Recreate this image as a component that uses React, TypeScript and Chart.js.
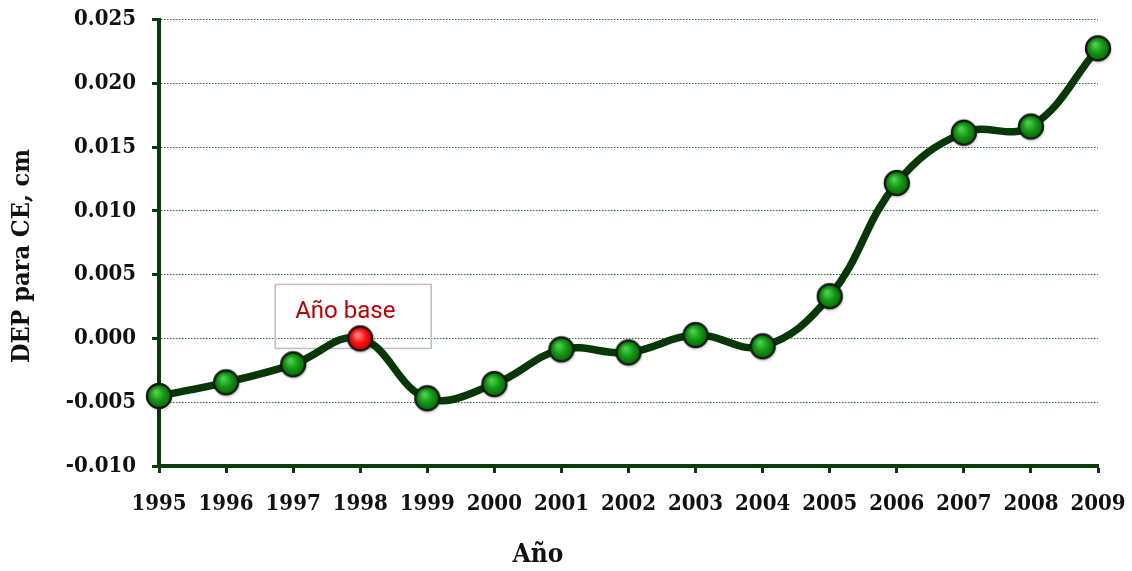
import React, { useEffect, useRef } from "react";
import { Chart, registerables } from "chart.js";

Chart.register(...registerables);

const years = ["1995", "1996", "1997", "1998", "1999", "2000", "2001", "2002", "2003", "2004", "2005", "2006", "2007", "2008", "2009"];
const depValues = [-0.00451, -0.00344, -0.00203, 0.0, -0.00469, -0.00358, -0.00086, -0.0011, 0.00026, -0.00062, 0.00331, 0.01218, 0.01613, 0.01661, 0.02274];
const yTickValues = [-0.01, -0.005, 0.0, 0.005, 0.01, 0.015, 0.02, 0.025];
const baseYearIndex = 3;
const annotationText = "Año base";
const yAxisTitle = "DEP para CE, cm";
const xAxisTitle = "Año";

const AXIS_COLOR = "#0b3a0b";
const LINE_COLOR = "#053805";
const SERIF = "'DejaVu Serif Condensed', 'DejaVu Serif', serif";

function makeBall(light: string, mid: string, dark: string): HTMLCanvasElement {
  const size = 32;
  const c = document.createElement("canvas");
  c.width = size;
  c.height = size;
  const g = c.getContext("2d")!;
  const cx = size / 2;
  const cy = size / 2;
  const r = 12;
  g.beginPath();
  g.arc(cx + 1, cy + 2, r + 1.5, 0, Math.PI * 2);
  g.fillStyle = "rgba(0,0,0,0.10)";
  g.fill();
  const grad = g.createRadialGradient(cx - 3, cy - 4, 1, cx, cy, r);
  grad.addColorStop(0, light);
  grad.addColorStop(0.55, mid);
  grad.addColorStop(1, dark);
  g.beginPath();
  g.arc(cx, cy, r, 0, Math.PI * 2);
  g.fillStyle = grad;
  g.fill();
  g.lineWidth = 2.4;
  g.strokeStyle = "#151515";
  g.stroke();
  return c;
}

export default function App() {
  const canvasRef = useRef<HTMLCanvasElement | null>(null);

  useEffect(() => {
    const canvas = canvasRef.current;
    if (!canvas) return;
    const greenBall = makeBall("#4fd04f", "#129612", "#066806");
    const redBall = makeBall("#ff8a8a", "#ff1010", "#c80000");

    const annotationPlugin = {
      id: "baseYearNote",
      beforeDatasetsDraw(chart: any) {
        const xs = chart.scales.x;
        const ys = chart.scales.y;
        const px = xs.getPixelForValue(baseYearIndex);
        const py = ys.getPixelForValue(depValues[baseYearIndex]);
        const ctx = chart.ctx;
        ctx.save();
        ctx.strokeStyle = "#bdbdbd";
        ctx.lineWidth = 1.5;
        ctx.strokeRect(px - 85, py - 54, 156, 64);
        ctx.fillStyle = "#c00000";
        ctx.font = "24px Roboto";
        ctx.textAlign = "left";
        ctx.textBaseline = "alphabetic";
        ctx.fillText(annotationText, px - 65, py - 20);
        ctx.restore();
      },
    };

    const titlesPlugin = {
      id: "axisTitles",
      afterDraw(chart: any) {
        const ctx = chart.ctx;
        ctx.save();
        ctx.fillStyle = "#111";
        ctx.textAlign = "center";
        ctx.textBaseline = "middle";
        ctx.font = `bold 26px ${SERIF}`;
        ctx.fillText(xAxisTitle, 538, 555);
        ctx.translate(22, 256);
        ctx.rotate(-Math.PI / 2);
        ctx.font = `bold 25px ${SERIF}`;
        ctx.fillText(yAxisTitle, 0, 0);
        ctx.restore();
      },
    };

    const chart = new Chart(canvas, {
      type: "line",
      data: {
        labels: years,
        datasets: [
          {
            data: depValues,
            borderColor: LINE_COLOR,
            borderWidth: 7.5,
            tension: 0.4,
            pointStyle: (ctx: any) => (ctx.dataIndex === baseYearIndex ? redBall : greenBall),
            pointRadius: 12,
            pointHoverRadius: 12,
            clip: false as any,
          },
        ],
      },
      options: {
        animation: false,
        responsive: false,
        maintainAspectRatio: false,
        events: [],
        layout: { padding: { top: 19, right: 34, left: 0, bottom: 0 } },
        plugins: {
          legend: { display: false },
          tooltip: { enabled: false },
        },
        scales: {
          x: {
            type: "category",
            offset: false,
            grid: {
              drawOnChartArea: false,
              drawTicks: true,
              tickLength: 7,
              tickWidth: 3,
              tickColor: AXIS_COLOR,
            },
            border: { display: true, color: AXIS_COLOR, width: 4 },
            ticks: {
              color: "#111",
              font: { family: SERIF, size: 22, weight: "bold" },
              padding: 18,
              maxRotation: 0,
              autoSkip: false,
            },
            title: { display: false },
            afterFit: (scale: any) => {
              scale.height = 105;
              scale.paddingLeft = 0;
              scale.paddingRight = 0;
            },
          },
          y: {
            type: "linear",
            min: -0.01,
            max: 0.025,
            afterBuildTicks: (scale: any) => {
              scale.ticks = yTickValues.map((v) => ({ value: v }));
            },
            grid: {
              color: "#2e6a2e",
              lineWidth: 1,
              drawTicks: true,
              tickLength: 7,
              tickWidth: 3,
              tickColor: AXIS_COLOR,
              tickBorderDash: [],
            },
            border: { display: true, color: AXIS_COLOR, width: 4, dash: [1.5, 1.5] },
            ticks: {
              color: "#111",
              font: { family: SERIF, size: 22, weight: "bold" },
              padding: 16,
              callback: (v: any) => Number(v).toFixed(3),
            },
            title: { display: false },
            afterFit: (scale: any) => {
              scale.width = 159;
              scale.paddingTop = 0;
              scale.paddingBottom = 0;
            },
          },
        },
      },
      plugins: [annotationPlugin, titlesPlugin],
    } as any);

    return () => chart.destroy();
  }, []);

  return (
    <div style={{ position: "fixed", left: 0, top: 0, width: 1132, height: 571, background: "#fff" }}>
      <canvas ref={canvasRef} width={1132} height={571} style={{ display: "block", width: 1132, height: 571 }} />
    </div>
  );
}
